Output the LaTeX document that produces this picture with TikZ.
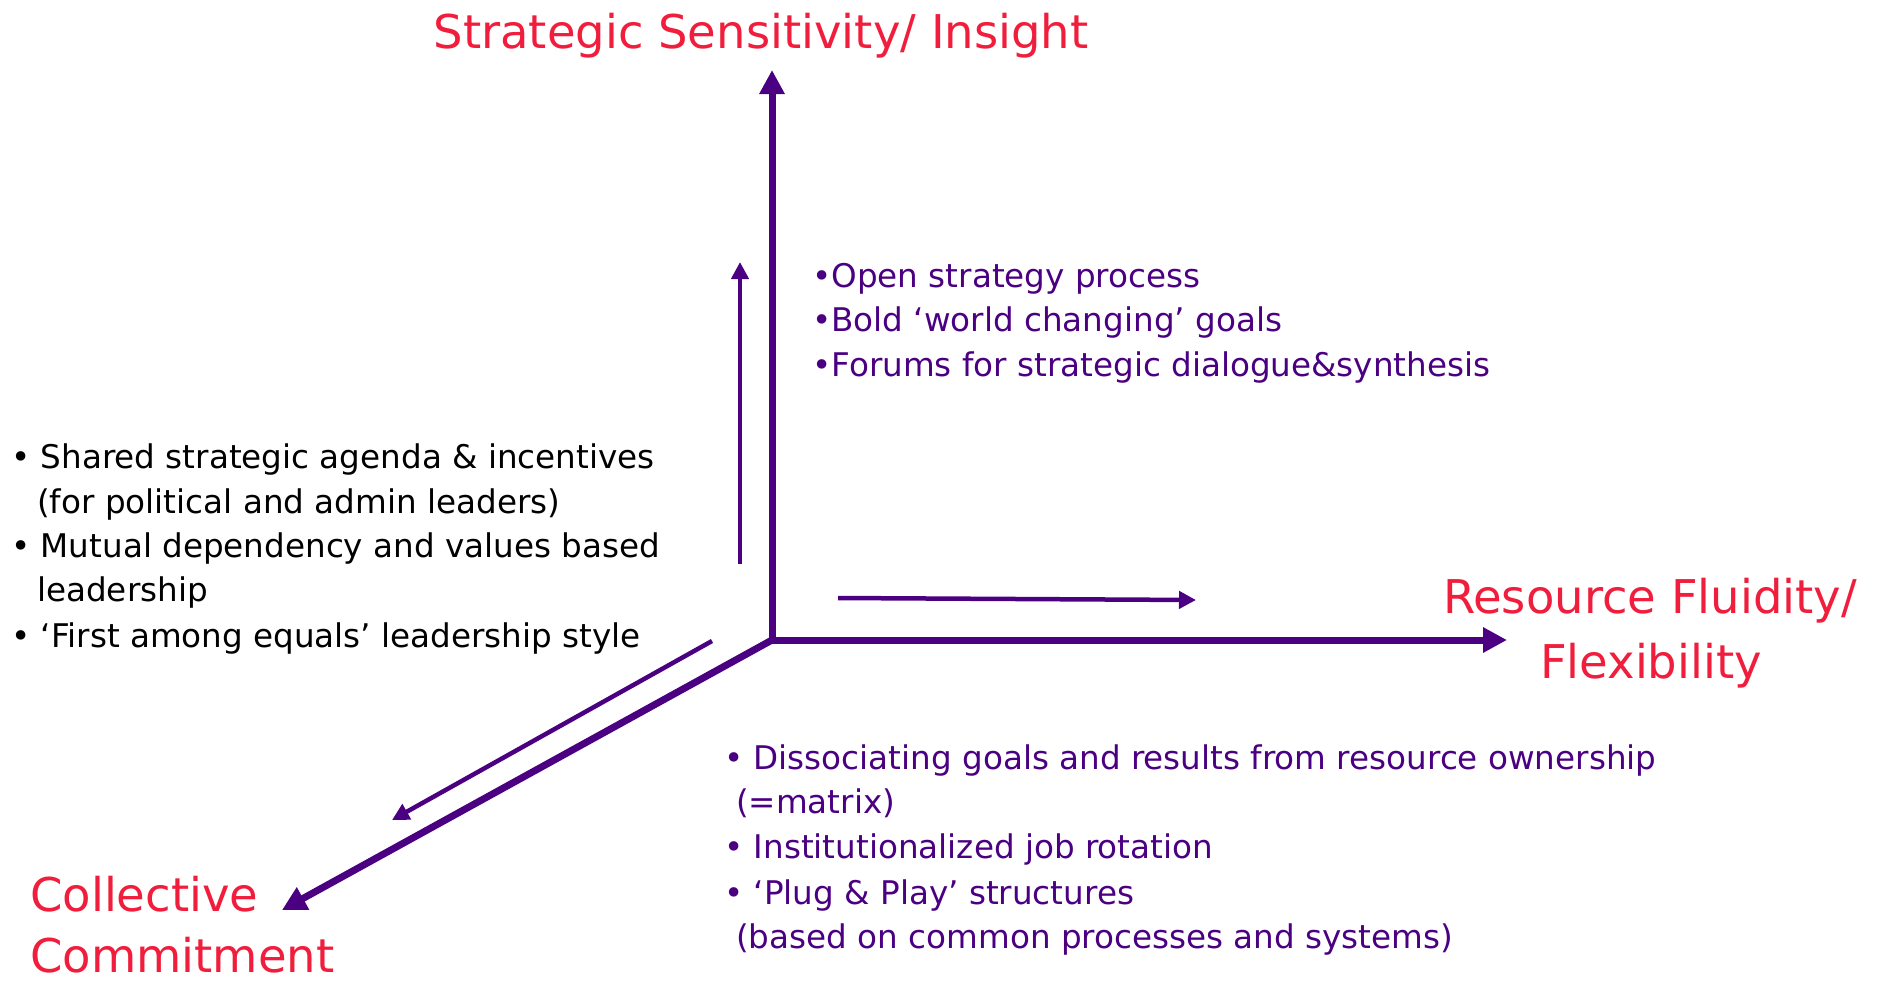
\documentclass[tikz,border=0pt]{standalone}
\usepackage{fontspec}
\setmainfont{DejaVu Sans}
\usetikzlibrary{arrows.meta}
\definecolor{axispurple}{RGB}{75,0,130}
\definecolor{titlered}{RGB}{240,30,60}
\begin{document}
\begin{tikzpicture}[x=1pt,y=-1pt,
  axis/.style={draw=axispurple, line width=7pt, -{Triangle[length=24pt,width=24pt]}},
  minor/.style={draw=axispurple, line width=4.5pt, -{Triangle[length=17pt,width=17pt]}},
  redlbl/.style={text=titlered, font=\fontsize{46.5}{56}\selectfont, inner sep=0},
  blk/.style={text=black, font=\fontsize{32.6}{40}\selectfont, inner sep=0, anchor=base west},
  pur/.style={blk, text=axispurple},
]
\useasboundingbox (0,0) rectangle (1881,980);
% axes
\coordinate (O) at (772,640);
\coordinate (Ytip) at (772,70);
\coordinate (Xtip) at (1507,640);
\coordinate (Ztip) at (282,910);
\draw[axis] (O) -- (Ytip);
\draw[axis] (O) -- (Xtip);
\draw[axis] (O) -- (Ztip);
% minor arrows
\coordinate (ys) at (740,564);
\coordinate (ye) at (740,262);
\coordinate (xs) at (838,598);
\coordinate (xe) at (1196,600);
\coordinate (zs) at (712,641);
\coordinate (ze) at (392,820);
\draw[minor] (ys) -- (ye);
\draw[minor] (xs) -- (xe);
\draw[minor] (zs) -- (ze);
% red labels
\node[redlbl, anchor=base] (ytitle) at (761,48) {Strategic Sensitivity/ Insight};
\node[redlbl, anchor=base] (xtitle1) at (1650,613) {Resource Fluidity/};
\node[redlbl, anchor=base] (xtitle2) at (1651,678) {Flexibility};
\node[redlbl, anchor=base west] (ztitle1) at (30,911) {Collective};
\node[redlbl, anchor=base west, text depth=0pt] (ztitle2) at (30,972) {Commitment};
% upper right list
\node[pur] (u1) at (812,287) {•Open strategy process};
\node[pur] (u2) at (812,331) {•Bold ‘world changing’ goals};
\node[pur] (u3) at (812,376) {•Forums for strategic dialogue\&synthesis};
% left list
\node[blk] (l1) at (11,468) {• Shared strategic agenda \& incentives};
\node[blk] (l2) at (37,513) {(for political and admin leaders)};
\node[blk] (l3) at (11,557) {• Mutual dependency and values based};
\node[blk] (l4) at (37,601) {leadership};
\node[blk] (l5) at (11,647) {• ‘First among equals’ leadership style};
% bottom list
\node[pur] (b1) at (724,769) {• Dissociating goals and results from resource ownership};
\node[pur] (b2) at (736,813) {(=matrix)};
\node[pur] (b3) at (724,858) {• Institutionalized job rotation};
\node[pur] (b4) at (724,904) {• ‘Plug \& Play’ structures};
\node[pur] (b5) at (736,948) {(based on common processes and systems)};
\end{tikzpicture}
\end{document}
